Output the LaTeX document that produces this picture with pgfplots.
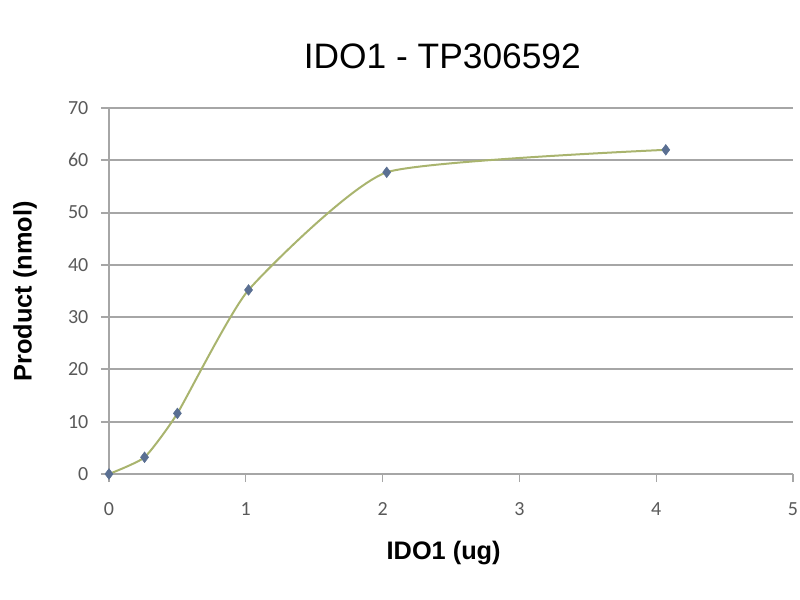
\documentclass[border=0pt]{standalone}
\usepackage{pgfplots}
\pgfplotsset{compat=1.18}
\usepackage{fontspec}
\setmainfont{Liberation Sans}
\newfontfamily\tickfont{Carlito}
\definecolor{gridc}{HTML}{A6A6A6}
\definecolor{linec}{HTML}{A9B46E}
\definecolor{markc}{HTML}{5A6F92}
\definecolor{tickc}{HTML}{595959}
\begin{document}
\begin{tikzpicture}
\useasboundingbox (-81.75pt,-94.5pt) rectangle (518.25pt,355.5pt);
\begin{axis}[
  at={(0,0)}, anchor=south west,
  scale only axis, width=513pt, height=274.5pt,
  xmin=0, xmax=5, ymin=0, ymax=70,
  xtick={0,1,2,3,4,5}, ytick={0,10,...,70},
  axis x line*=bottom, axis y line*=left,
  axis line style={gridc, line width=1.2pt, -},
  ymajorgrids, major grid style={gridc, line width=1.4pt},
  y tick style={gridc, line width=1.4pt}, major tick length=6pt,
  x tick style={gridc, line width=0.8pt},
  xtick align=outside, ytick align=outside,
  tick label style={font=\tickfont\fontsize{15}{17}\selectfont, text=tickc},
  /pgf/number format/assume math mode=true,
  xticklabel style={yshift=-12pt},
  yticklabel style={xshift=-6pt},
  clip=false,
]
\addplot[linec, line width=1.5pt, smooth, tension=0.3, mark=diamond*, mark size=4pt,
  mark options={fill=markc, draw=markc, line width=0.4pt}]
  coordinates {(0,0) (0.26,3.2) (0.50,11.6) (1.02,35.2) (2.03,57.7) (4.07,62.0)};
\end{axis}
\node[font=\fontsize{26.5}{30}\selectfont, anchor=center] at (250pt,313pt) {IDO1 - TP306592};
\node[font=\bfseries\fontsize{19}{22}\selectfont, rotate=90] at (-63pt,137pt) {Product (nmol)};
\node[font=\bfseries\fontsize{19}{22}\selectfont] at (251pt,-59pt) {IDO1 (ug)};
\end{tikzpicture}
\end{document}
